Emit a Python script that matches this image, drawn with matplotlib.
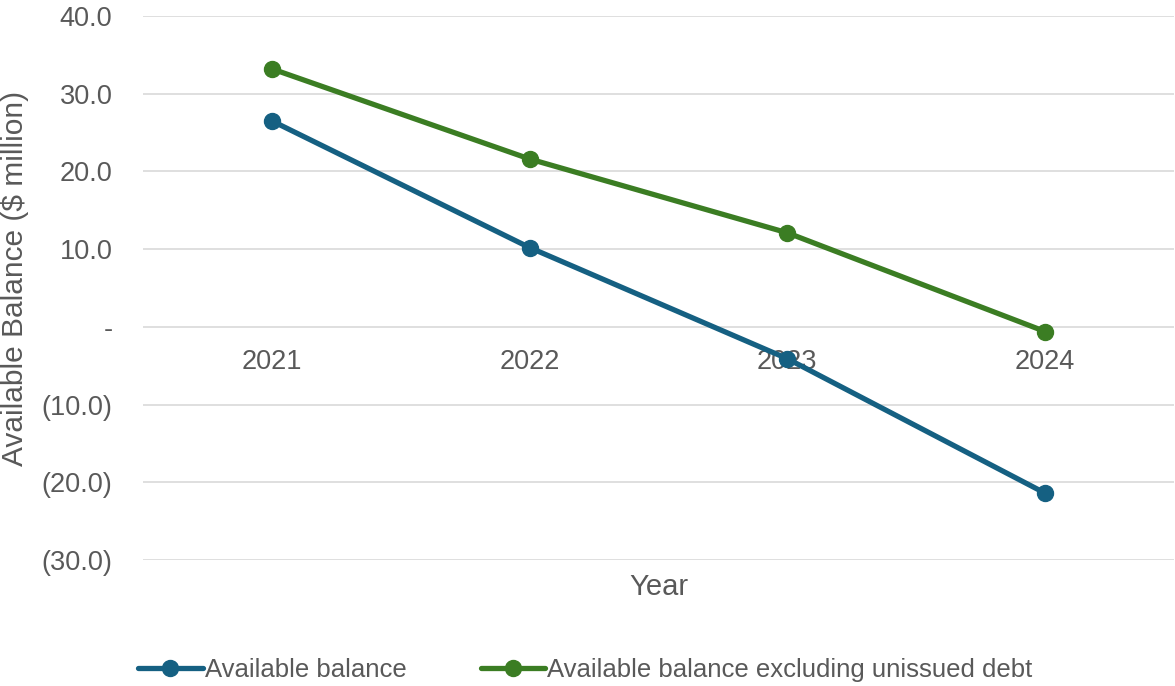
import matplotlib
matplotlib.use("Agg")
import matplotlib.pyplot as plt
from matplotlib import font_manager

years = ["2021", "2022", "2023", "2024"]
available_balance = [26.5, 10.2, -4.1, -21.4]
excluding_unissued = [33.2, 21.6, 12.1, -0.6]
y_ticks = [-30, -20, -10, 0, 10, 20, 30, 40]

def fmt(v):
    if v == 0:
        return "-"
    if v < 0:
        return f"({abs(v):.1f})"
    return f"{v:.1f}"

names = {f.name for f in font_manager.fontManager.ttflist}
has_narrow = "Liberation Sans Narrow" in names
legend_font = "Liberation Sans Narrow" if has_narrow else "Liberation Sans"
legend_size = 22 if has_narrow else 18.5
plt.rcParams["font.family"] = ["Liberation Sans", "DejaVu Sans"]

fig = plt.figure(figsize=(11.75, 6.86), dpi=100)
W, H = 1175, 686
ax = fig.add_axes([143 / W, 1 - 560 / H, (1174 - 143) / W, (560 - 16) / H])

blue = "#156082"
green = "#3B7D23"
x = list(range(len(years)))
ax.plot(x, available_balance, color=blue, lw=3.8, marker="o", ms=11.5,
        label="Available balance", solid_capstyle="round", zorder=3)
ax.plot(x, excluding_unissued, color=green, lw=3.8, marker="o", ms=11.5,
        label="Available balance excluding unissued debt", solid_capstyle="round", zorder=3)

ax.set_xlim(-0.5, len(years) - 0.5)
ax.set_ylim(-30, 40)
ax.set_yticks(y_ticks)
ax.set_yticklabels([fmt(v) for v in y_ticks])
ax.grid(axis="y", color="#D9D9D9", lw=1.2)
ax.set_axisbelow(True)
for s in ax.spines.values():
    s.set_visible(False)
ax.spines["bottom"].set_position(("data", 0))
ax.set_xticks(x)
ax.set_xticklabels(years)
ax.tick_params(axis="both", length=0, labelsize=19.5, labelcolor="#595959")
ax.tick_params(axis="y", pad=22)
ax.tick_params(axis="x", pad=16)

fig.text(659 / W, 1 - 587 / H, "Year", ha="center", va="center",
         fontsize=21, color="#595959")
fig.text(15 / W, 1 - 278 / H, "Available Balance ($ million)", ha="center", va="center",
         rotation=90, fontsize=21.5, color="#595959")

leg = fig.legend(loc="center left", bbox_to_anchor=(128 / W, 1 - 670 / H), ncol=2,
                 frameon=False, handlelength=2.5, handletextpad=0.08, columnspacing=2.9,
                 prop={"family": legend_font, "size": legend_size}, borderaxespad=0)
for t in leg.get_texts():
    t.set_color("#595959")

fig.savefig("out.png", dpi=100)
